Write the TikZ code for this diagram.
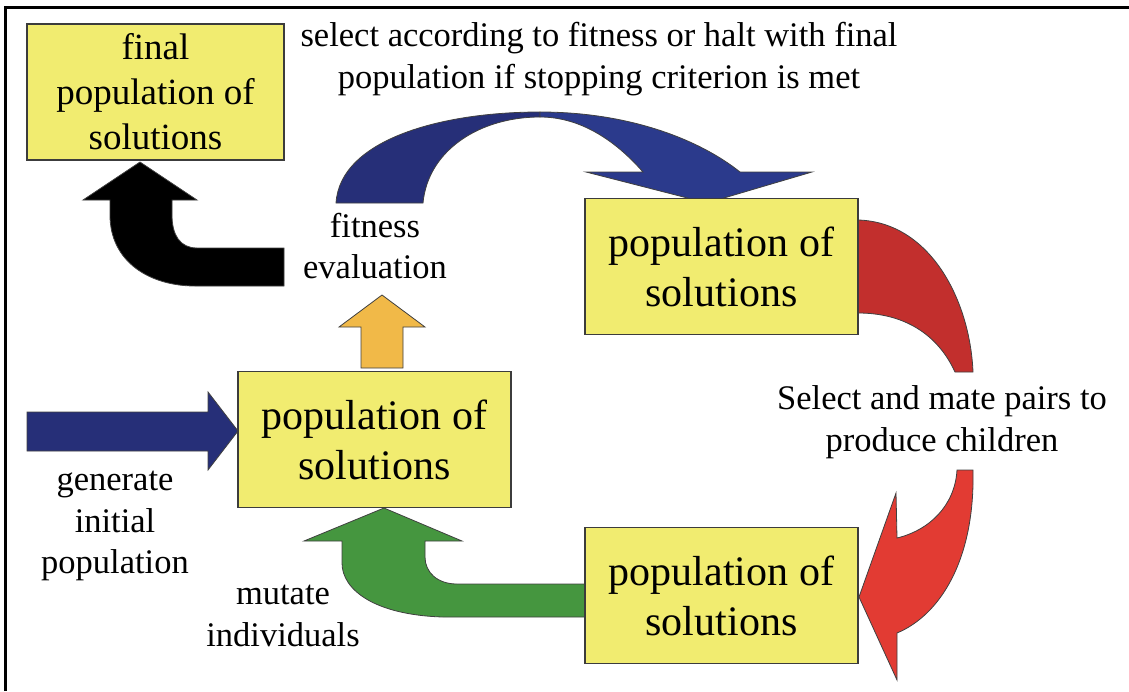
\documentclass[tikz,border=0pt]{standalone}
\usepackage{fontspec}
\setmainfont{LiberationSerif}[Extension=.ttf, UprightFont=*-Regular, BoldFont=*-Bold, ItalicFont=*-Italic, BoldItalicFont=*-BoldItalic]
\usepackage{tikz}
\definecolor{boxyellow}{HTML}{F1EC70}
\definecolor{boxline}{HTML}{3C3C3C}
\definecolor{navyback}{HTML}{262F78}
\definecolor{navyfront}{HTML}{2B3A8C}
\definecolor{amber}{HTML}{F1B948}
\definecolor{leafgreen}{HTML}{45963F}
\definecolor{reddark}{HTML}{C22F2D}
\definecolor{redlight}{HTML}{E23B33}
\tikzset{
  popbox/.style={
    rectangle, draw=boxline, line width=1.2pt,
    fill=boxyellow, align=center, inner sep=0pt,
    minimum width=273pt, minimum height=136pt,
    font=\rmfamily\fontsize{42}{50}\selectfont
  },
  finalbox/.style={
    popbox, minimum width=257pt, minimum height=136pt,
    font=\rmfamily\fontsize{37}{45}\selectfont
  },
  steplabel/.style={align=center, inner sep=0pt, font=\rmfamily\fontsize{34.5}{41.5}\selectfont},
  fatarrow/.style={draw=black!75, line width=0.8pt, line join=miter},
}

\begin{document}
\begin{tikzpicture}[x=1pt, y=-1pt]
  \useasboundingbox (0,0) rectangle (1129,691);
  \draw[line width=3pt] (5,691) -- (5,7) -- (1129,7);

  % fat arrows
  \fill[fatarrow, fill=navyback] (27,412) -- (208,412) -- (208,392) -- (238,431) -- (208,470) -- (208,451) -- (27,451) -- cycle;
  \fill[fatarrow, fill=amber] (361,368) -- (361,327) -- (339,327) -- (382,295) -- (425,327) -- (403,327) -- (403,368) -- cycle;
  \fill[fatarrow, fill=black] (284,248) -- (197,248) .. controls (180,248) and (172,235) .. (172,215) -- (172,200) -- (197,200) -- (140,162) -- (83,200) -- (110,200) -- (110,215) .. controls (110,262) and (150,286) .. (195,286) -- (284,286) -- cycle;
  \fill[fatarrow, fill=leafgreen] (586,584) -- (457,584) .. controls (437,584) and (425,572) .. (425,557) -- (425,541) -- (462,541) -- (384,508) -- (304,541) -- (342,541) -- (342,563) .. controls (342,590) and (375,615) .. (443,617) -- (586,617) -- cycle;
  \fill[fatarrow, fill=navyback] (336,203) .. controls (340,140) and (440,112) .. (540,112) -- (540,117) .. controls (480,117) and (428,150) .. (423,203) -- cycle;
  \fill[fatarrow, fill=navyfront] (540,112) .. controls (630,112) and (700,140) .. (740,172) -- (812,172) -- (707,203) -- (586,172) -- (643,172) .. controls (615,140) and (580,117) .. (540,117) -- cycle;
  \fill[fatarrow, fill=reddark] (858,220) .. controls (930,222) and (970,300) .. (973,372) -- (955,372) .. controls (938,335) and (905,313) .. (858,313) -- cycle;
  \fill[fatarrow, fill=redlight] (957,470) -- (973,470) .. controls (975,560) and (940,615) .. (897,633) -- (897,680) -- (859,597) -- (896,493) -- (897,538) .. controls (930,530) and (955,505) .. (957,470) -- cycle;

  \node[finalbox] (final) at (155.5,92) {final\\population of\\solutions};
  \node[popbox] (popSel) at (721.5,266.5) {population of\\solutions};
  \node[popbox] (popEval) at (374.5,439.5) {population of\\solutions};
  \node[popbox] (popKids) at (721.5,595.5) {population of\\solutions};

  \node[steplabel] (selLbl) at (599,59) {select according to fitness or halt with final\\population if stopping criterion is met};
  \node[steplabel] (fitLbl) at (375,246) {fitness\\evaluation};
  \node[steplabel] (mateLbl) at (942,422) {Select and mate pairs to\\produce children};
  \node[steplabel] (genLbl) at (115,526) {generate\\initial\\population};
  \node[steplabel] (mutLbl) at (283,616) {mutate\\individuals};
\end{tikzpicture}
\end{document}
